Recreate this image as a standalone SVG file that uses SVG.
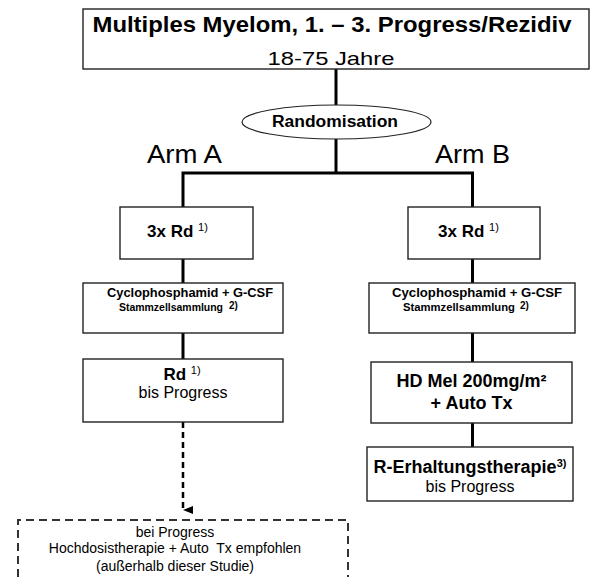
<svg xmlns="http://www.w3.org/2000/svg" width="590" height="577" viewBox="0 0 590 577">
<defs>
<style>
text{font-family:"Liberation Sans",Arial,Helvetica,sans-serif;fill:#000}
.box{fill:#fff;stroke:#222;stroke-width:1.4}
.dbox{fill:#fff;stroke:#333;stroke-width:2;stroke-dasharray:8 5}
.conn{stroke:#000;stroke-width:3;fill:none}
.dconn{stroke:#000;stroke-width:2.5;fill:none;stroke-dasharray:6 4}
.b{font-weight:bold}
.c{text-anchor:middle}
</style>
<marker id="ah" markerWidth="8" markerHeight="10" refX="4" refY="10" orient="auto" markerUnits="userSpaceOnUse" viewBox="0 0 8 10">
<path d="M0,0 L8,0 L4,10 Z" fill="#000"/>
</marker>
</defs>
<g id="connectors">
<line class="conn" x1="336" y1="69" x2="336" y2="105"/>
<line class="conn" x1="336" y1="139" x2="336" y2="173"/>
<polyline class="conn" points="183,207 183,173 472.5,173 472.5,207"/>
<line class="conn" x1="183" y1="259" x2="183" y2="283"/>
<line class="conn" x1="183" y1="333" x2="183" y2="359"/>
<line class="conn" x1="472.5" y1="259" x2="472.5" y2="283"/>
<line class="conn" x1="472.5" y1="333" x2="472.5" y2="362"/>
<line class="conn" x1="472.5" y1="423" x2="472.5" y2="447"/>
<line class="dconn" x1="183" y1="422" x2="183" y2="510" marker-end="url(#ah)"/>
</g>
<g id="title">
<rect class="box" x="83" y="9" width="506" height="60"/>
<text class="b c" x="332" y="32" font-size="22" textLength="479" lengthAdjust="spacingAndGlyphs">Multiples Myelom, 1. – 3. Progress/Rezidiv</text>
<text class="c" x="331" y="65" font-size="19" textLength="127" lengthAdjust="spacingAndGlyphs">18-75 Jahre</text>
</g>
<g id="randomisation">
<ellipse cx="336.5" cy="122" rx="94.5" ry="17" fill="#fff" stroke="#222" stroke-width="1.2"/>
<text class="b c" x="335" y="127" font-size="16" textLength="126" lengthAdjust="spacingAndGlyphs">Randomisation</text>
</g>
<g id="armA-label"><text x="147" y="163" font-size="26" textLength="75" lengthAdjust="spacingAndGlyphs">Arm A</text></g>
<g id="armB-label"><text x="435" y="163" font-size="26" textLength="75" lengthAdjust="spacingAndGlyphs">Arm B</text></g>
<g id="a-rd">
<rect class="box" x="120" y="207" width="133" height="52"/>
<text class="b" x="147" y="237" font-size="17">3x Rd <tspan font-size="11" dy="-6" font-weight="normal">1)</tspan></text>
</g>
<g id="b-rd">
<rect class="box" x="408" y="207" width="132" height="52"/>
<text class="b" x="438" y="237" font-size="17">3x Rd <tspan font-size="11" dy="-6" font-weight="normal">1)</tspan></text>
</g>
<g id="a-cyclo">
<rect class="box" x="83" y="283" width="200" height="50"/>
<text class="b" x="107" y="297" font-size="12" textLength="166" lengthAdjust="spacingAndGlyphs">Cyclophosphamid + G-CSF</text>
<text class="b" x="119" y="311" font-size="11.5" textLength="104" lengthAdjust="spacingAndGlyphs">Stammzellsammlung</text>
<text class="b" x="229" y="309" font-size="10">2)</text>
</g>
<g id="b-cyclo">
<rect class="box" x="369" y="283" width="206" height="50"/>
<text class="b" x="392" y="297" font-size="12" textLength="170" lengthAdjust="spacingAndGlyphs">Cyclophosphamid + G-CSF</text>
<text class="b" x="403" y="311" font-size="11.5" textLength="112" lengthAdjust="spacingAndGlyphs">Stammzellsammlung</text>
<text class="b" x="520" y="309" font-size="10">2)</text>
</g>
<g id="a-rd-progress">
<rect class="box" x="83" y="359" width="200" height="63"/>
<text class="b c" x="182" y="380" font-size="17">Rd <tspan font-size="11" dy="-6" font-weight="normal">1)</tspan></text>
<text class="c" x="183" y="398" font-size="16">bis Progress</text>
</g>
<g id="b-hdmel">
<rect class="box" x="371" y="362" width="201" height="61"/>
<text class="b c" x="471.5" y="387" font-size="18">HD Mel 200mg/m²</text>
<text class="b c" x="471.5" y="409" font-size="18">+ Auto Tx</text>
</g>
<g id="b-erhaltung">
<rect class="box" x="367" y="447" width="206" height="54"/>
<text class="b c" x="470" y="473" font-size="18">R-Erhaltungstherapie<tspan font-size="11" dy="-6">3)</tspan></text>
<text class="c" x="470" y="492" font-size="16">bis Progress</text>
</g>
<g id="a-hochdosis">
<path class="dbox" d="M18,590 L18,520 L348,520 L348,590"/>
<text class="c" x="175" y="537" font-size="14">bei Progress</text>
<text class="c" x="175" y="553" font-size="14" xml:space="preserve">Hochdosistherapie + Auto  Tx empfohlen</text>
<text class="c" x="175" y="571" font-size="14">(außerhalb dieser Studie)</text>
</g>
</svg>
